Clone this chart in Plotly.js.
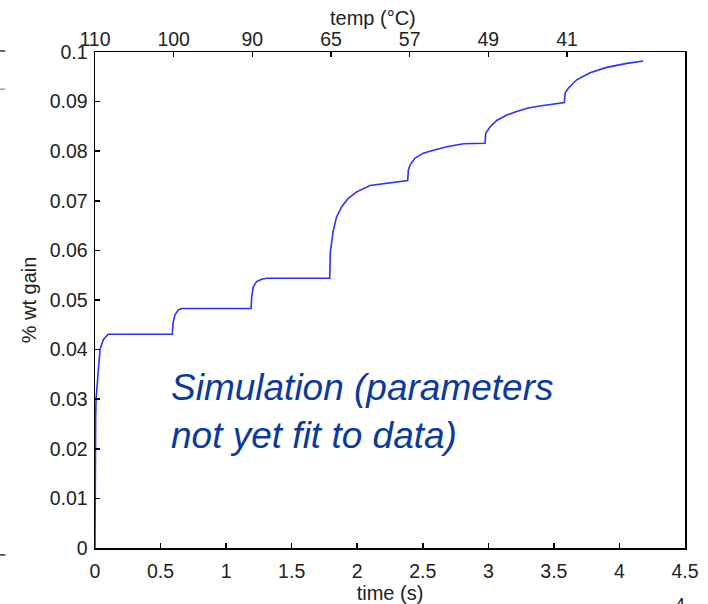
<!DOCTYPE html>
<html>
<head>
<meta charset="utf-8">
<script src="https://cdn.plot.ly/plotly-3.0.1.min.js"></script>
<style>html,body{margin:0;padding:0;background:#fff;}#chart{width:708px;height:604px;}</style>
</head>
<body>
<div id="chart"></div>
<script>
// time (s)
const timeS = [0, 0, 0.005, 0.008, 0.02, 0.038, 0.063, 0.1, 0.59,
  0.595, 0.61, 0.636, 0.661, 1.19,
  1.195, 1.208, 1.233, 1.271, 1.31, 1.79,
  1.795, 1.805, 1.818, 1.843, 1.882, 1.932, 1.996, 2.098, 2.225, 2.326, 2.385,
  2.39, 2.403, 2.441, 2.504, 2.581, 2.683, 2.81, 2.975,
  2.98, 3.013, 3.064, 3.14, 3.216, 3.305, 3.394, 3.58,
  3.585, 3.61, 3.674, 3.776, 3.903, 4.056, 4.182];
// % wt gain
const wtGain = [0, 0.0232, 0.026, 0.030, 0.034, 0.040, 0.042, 0.0431, 0.0431,
  0.0453, 0.0470, 0.0480, 0.0483, 0.0483,
  0.0507, 0.0527, 0.0537, 0.0542, 0.0544, 0.0544,
  0.0597, 0.0614, 0.0641, 0.0668, 0.0688, 0.0705, 0.0718, 0.0731, 0.0735, 0.0739, 0.0741,
  0.0762, 0.0772, 0.0786, 0.0796, 0.0802, 0.0809, 0.0815, 0.0816,
  0.0836, 0.0849, 0.0862, 0.0873, 0.0880, 0.0887, 0.0891, 0.0898,
  0.0917, 0.0927, 0.0944, 0.0958, 0.0969, 0.0977, 0.0982];
// bottom axis ticks
const xTickVals = [0, 0.5, 1, 1.5, 2, 2.5, 3, 3.5, 4, 4.5];
const xTickText = ['0', '0.5', '1', '1.5', '2', '2.5', '3', '3.5', '4', '4.5'];
// left axis ticks
const yTickVals = [0, 0.01, 0.02, 0.03, 0.04, 0.05, 0.06, 0.07, 0.08, 0.09, 0.1];
const yTickText = ['0', '0.01', '0.02', '0.03', '0.04', '0.05', '0.06', '0.07', '0.08', '0.09', '0.1'];
// top axis (temperature) ticks
const tempTickVals = [0, 0.6, 1.2, 1.8, 2.4, 3.0, 3.6];
const tempTickText = ['110', '100', '90', '65', '57', '49', '41'];

const FONT = 'Liberation Sans, Arial, sans-serif';
const tickFont = {family: FONT, size: 19.5, color: '#222'};
const titleFont = {family: FONT, size: 20, color: '#222'};

const traces = [
  {x: timeS, y: wtGain, type: 'scatter', mode: 'lines',
   line: {color: '#2f2fff', width: 1.6}, hoverinfo: 'skip', showlegend: false},
  {x: [0], y: [0], xaxis: 'x2', yaxis: 'y', type: 'scatter', mode: 'markers',
   marker: {opacity: 0}, hoverinfo: 'skip', showlegend: false}
];

const layout = {
  width: 708, height: 604,
  margin: {l: 95, r: 23, t: 52, b: 56, pad: 0},
  paper_bgcolor: '#fff', plot_bgcolor: '#fff',
  font: {family: FONT, color: '#222'},
  showlegend: false,
  xaxis: {
    range: [0, 4.5], tickvals: xTickVals, ticktext: xTickText,
    ticks: 'inside', ticklen: 5, tickwidth: 1.5, tickcolor: '#000',
    showline: true, linecolor: '#000', linewidth: 1.5, mirror: true,
    showgrid: false, zeroline: false, tickfont: tickFont, ticklabelstandoff: 5,
    title: {text: 'time (s)', font: titleFont, standoff: 0}
  },
  xaxis2: {
    range: [0, 4.5], overlaying: 'x', side: 'top', anchor: 'y',
    tickvals: tempTickVals, ticktext: tempTickText,
    ticks: 'inside', ticklen: 5, tickwidth: 1.5, tickcolor: '#000',
    showline: false, showgrid: false, zeroline: false, tickfont: tickFont, ticklabelstandoff: 1
  },
  yaxis: {
    range: [0, 0.1], tickvals: yTickVals, ticktext: yTickText,
    ticks: 'inside', ticklen: 5, tickwidth: 1.5, tickcolor: '#000',
    showline: true, linecolor: '#000', linewidth: 1.5, mirror: true,
    showgrid: false, zeroline: false, tickfont: tickFont, ticklabelstandoff: 2,
    title: {text: '% wt gain', font: titleFont, standoff: 7}
  },
  annotations: [
    {xref: 'paper', yref: 'paper', x: 0.471, y: 1.0, yshift: 34, xanchor: 'center', yanchor: 'middle',
     text: 'temp (°C)', showarrow: false, font: titleFont},
    {xref: 'paper', yref: 'paper', x: 0.125, y: 0.276, xanchor: 'left', yanchor: 'middle', align: 'left',
     text: '<i>Simulation (parameters<br>not yet fit to data)</i>', showarrow: false,
     font: {family: FONT, size: 37, color: '#0b3a9c'}},
    {xref: 'paper', yref: 'paper', x: 0.991, y: -0.115, xanchor: 'center', yanchor: 'middle',
     text: '4', showarrow: false, font: {family: FONT, size: 18, color: '#222'}}
  ],
  shapes: [
    {type: 'line', xref: 'paper', yref: 'paper', x0: -0.161, x1: -0.152, y0: 1.002, y1: 1.002, line: {color: '#000', width: 1.2}},
    {type: 'line', xref: 'paper', yref: 'paper', x0: -0.161, x1: -0.152, y0: 0.925, y1: 0.925, line: {color: '#7a7aff', width: 1.2}},
    {type: 'line', xref: 'paper', yref: 'paper', x0: -0.161, x1: -0.152, y0: -0.014, y1: -0.014, line: {color: '#000', width: 1.2}}
  ]
};

Plotly.newPlot('chart', traces, layout, {displayModeBar: false, staticPlot: true});
</script>
</body>
</html>
